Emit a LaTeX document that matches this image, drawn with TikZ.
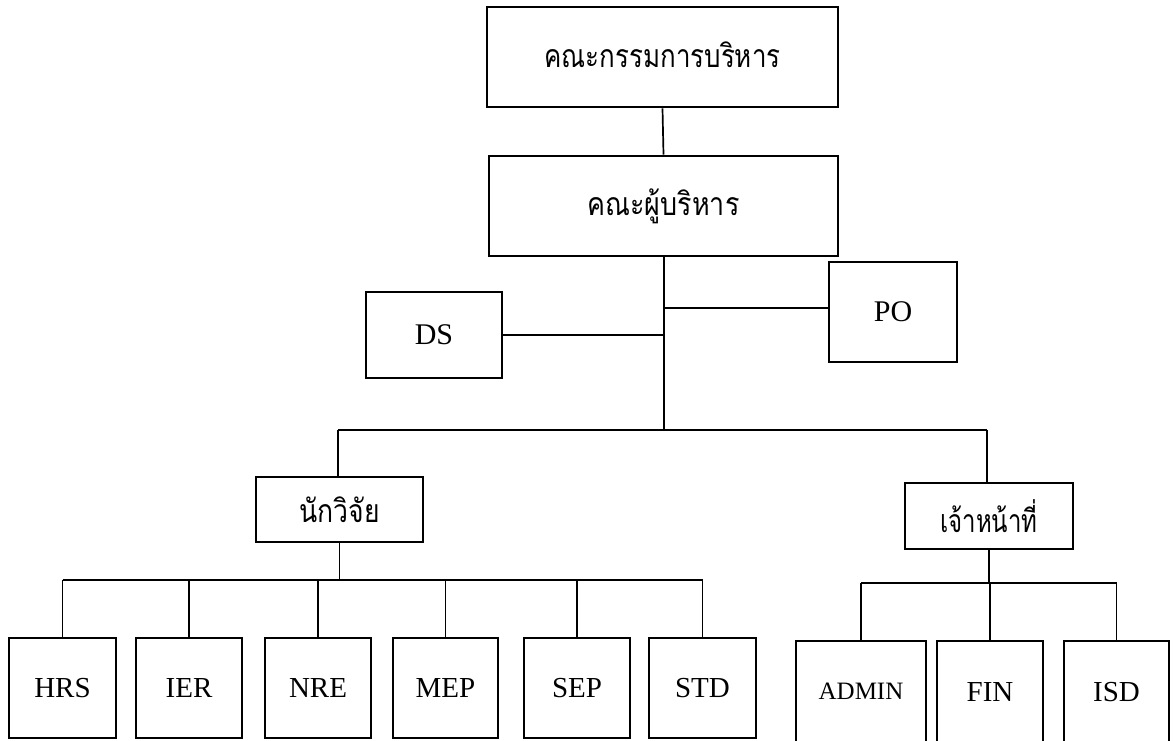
\documentclass[tikz,border=0pt]{standalone}
\usepackage{graphicx}
\usepackage{fontspec}
\setmainfont{Liberation Serif}
\newfontfamily\thaifont[Script=Thai]{Loma}
\newcommand{\thaitext}[2]{\scalebox{#1}[1]{#2}}
\tikzset{
  box/.style={draw, line width=2.7pt, rectangle, inner sep=0pt, align=center},
  conn/.style={line width=1.7pt},
  latin/.style={font=\fontsize{29}{31}\selectfont},
  thai/.style={font=\thaifont\fontsize{32}{36}\selectfont},
}
\begin{document}
\begin{tikzpicture}[x=1pt,y=-1pt]
\useasboundingbox (0,0) rectangle (1173,740);
\clip (0,0) rectangle (1173,740);
\fill[white] (0,0) rectangle (1173,740);
% top levels
\node[box,thai,minimum width=351pt,minimum height=100pt] (board) at (662.5,57) {\raisebox{5pt}{\thaitext{0.81}{คณะกรรมการบริหาร}}};
\node[box,thai,minimum width=349pt,minimum height=100pt] (exec) at (663.5,206) {\thaitext{0.84}{คณะผู้บริหาร}};
\node[box,latin,font=\fontsize{30}{32}\selectfont,minimum width=136pt,minimum height=86pt] (DS) at (434,335) {DS};
\node[box,latin,font=\fontsize{30}{32}\selectfont,minimum width=128pt,minimum height=100pt] (PO) at (893,312) {PO};
\node[box,thai,minimum width=167pt,minimum height=65pt] (res) at (339.5,509.5) {\thaitext{0.83}{นักวิจัย}};
\node[box,thai,minimum width=168pt,minimum height=66pt] (staff) at (989,516) {\thaitext{0.75}{เจ้าหน้าที่}};
% researcher units
\node[box,latin,minimum width=107pt,minimum height=100pt] (HRS) at (62.5,688) {HRS};
\node[box,latin,minimum width=106pt,minimum height=100pt] (IER) at (189,688) {IER};
\node[box,latin,minimum width=106pt,minimum height=100pt] (NRE) at (318,688) {NRE};
\node[box,latin,minimum width=105pt,minimum height=100pt] (MEP) at (445.5,688) {MEP};
\node[box,latin,minimum width=106pt,minimum height=100pt] (SEP) at (577,688) {SEP};
\node[box,latin,minimum width=107pt,minimum height=100pt] (STD) at (702.5,688) {STD};
% staff units
\node[box,latin,font=\fontsize{25}{27}\selectfont,minimum width=130pt,minimum height=104pt] (ADMIN) at (861,693) {\raisebox{3pt}{ADMIN}};
\node[box,latin,minimum width=106pt,minimum height=104pt] (FIN) at (990,693) {\raisebox{3pt}{FIN}};
\node[box,latin,minimum width=105pt,minimum height=104pt] (ISD) at (1116.5,693) {\raisebox{3pt}{ISD}};
% junction coordinates
\coordinate (trunkEnd) at (664,430);
\coordinate (poj) at (664,308);
\coordinate (hl) at (338,430);
\coordinate (hr) at (987,430);
\coordinate (barL) at (0,580);
\coordinate (barR) at (0,583);
% connectors
\draw[conn] (board.south) -- (exec.north);
\draw[conn] (exec.south -| trunkEnd) -- (trunkEnd);
\draw[conn] (DS.east) -- (DS.east -| trunkEnd);
\draw[conn] (poj) -- (poj -| PO.west);
\draw[conn] (hl) -- (hr);
\draw[conn] (hl) -- (hl |- res.north);
\draw[conn] (hr) -- (hr |- staff.north);
\draw[conn] (res.south) -- (res.south |- barL);
\draw[conn] (HRS.north |- barL) -- (STD.north |- barL);
\foreach \n in {HRS,IER,NRE,MEP,SEP,STD}{
  \draw[conn] (\n.north |- barL) -- (\n.north);
}
\draw[conn] (staff.south) -- (staff.south |- barR);
\draw[conn] (ADMIN.north |- barR) -- (ISD.north |- barR);
\foreach \n in {ADMIN,FIN,ISD}{
  \draw[conn] (\n.north |- barR) -- (\n.north);
}
\end{tikzpicture}
\end{document}
